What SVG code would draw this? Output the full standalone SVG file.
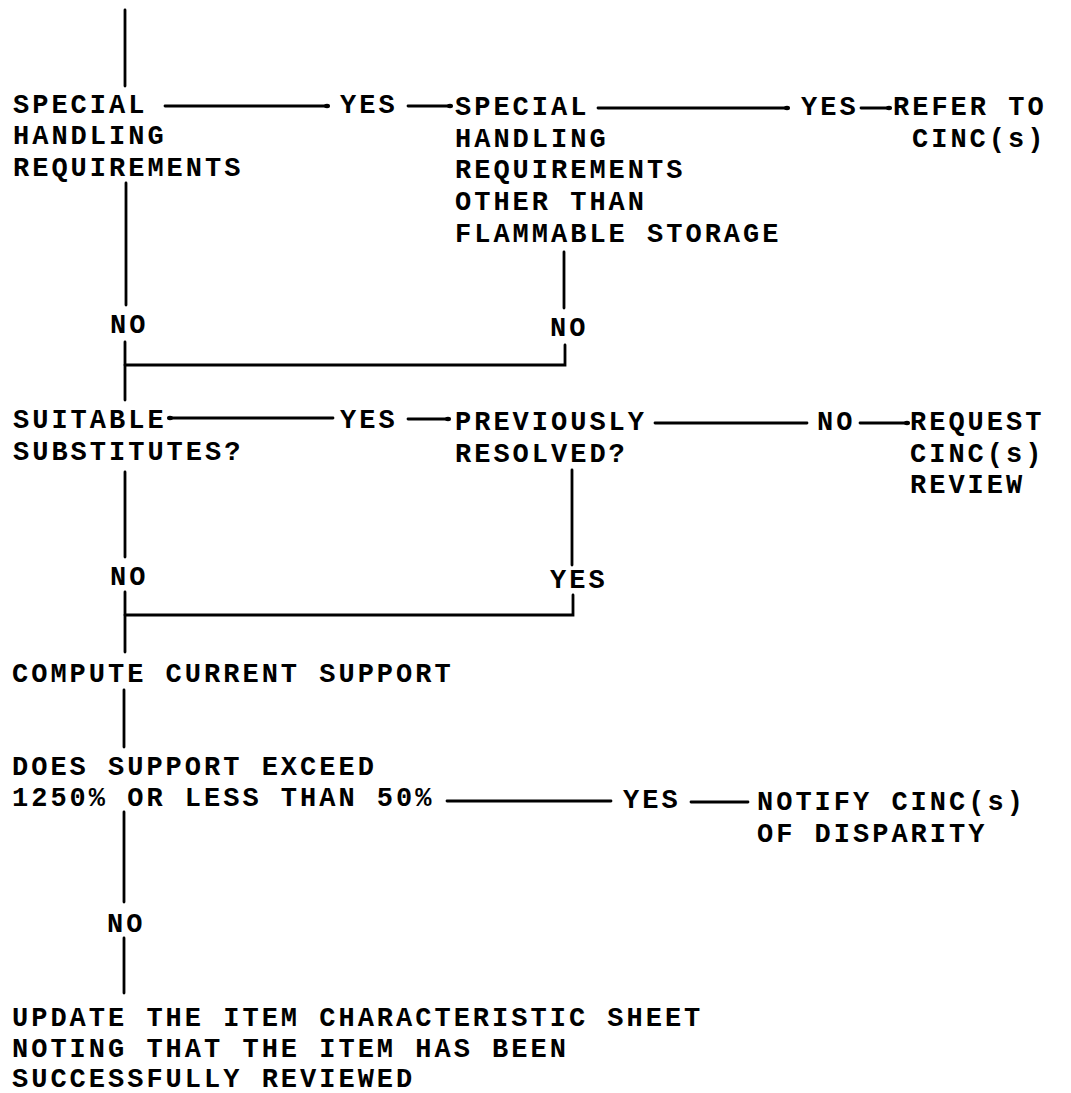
<svg xmlns="http://www.w3.org/2000/svg" width="1071" height="1093" viewBox="0 0 1071 1093">
<style>
text{font-family:"Liberation Mono","Courier New",monospace;font-size:27px;font-weight:bold;letter-spacing:3px;fill:#000}
.c line,.c path{stroke:#000;stroke-width:2.8;fill:none;stroke-linecap:round}
</style>
<defs>
<marker id="dot" viewBox="0 0 6 6" refX="3" refY="3" markerWidth="6" markerHeight="6" markerUnits="userSpaceOnUse"><ellipse cx="3" cy="3" rx="3" ry="2.2" fill="#000"/></marker>
</defs>
<rect width="1071" height="1093" fill="#fff"/>
<g class="c" id="connectors">
<line x1="125" y1="10" x2="125" y2="86"/>
<line x1="165" y1="106" x2="327" y2="106" marker-end="url(#dot)"/>
<line x1="408" y1="106" x2="450" y2="106" marker-end="url(#dot)"/>
<line x1="598" y1="108" x2="787" y2="108" marker-end="url(#dot)"/>
<line x1="861" y1="108" x2="889" y2="108" marker-end="url(#dot)"/>
<line x1="126" y1="183" x2="126" y2="305"/>
<line x1="564" y1="252" x2="564" y2="308"/>
<path d="M565,345 V365 H125"/>
<line x1="125" y1="342" x2="125" y2="400"/>
<line x1="333" y1="418" x2="170" y2="418" marker-end="url(#dot)"/>
<line x1="408" y1="419" x2="448" y2="419" marker-end="url(#dot)"/>
<line x1="655" y1="423" x2="807" y2="423"/>
<line x1="860" y1="423" x2="907" y2="423" marker-end="url(#dot)"/>
<line x1="125" y1="472" x2="125" y2="557"/>
<line x1="572" y1="470" x2="572" y2="565"/>
<path d="M573,595 V615 H125"/>
<line x1="125" y1="592" x2="125" y2="652"/>
<line x1="124" y1="690" x2="124" y2="747"/>
<line x1="447" y1="801" x2="611" y2="801"/>
<line x1="691" y1="802" x2="748" y2="802"/>
<line x1="124" y1="812" x2="124" y2="902"/>
<line x1="124" y1="938" x2="124" y2="993"/>
</g>
<g id="n-special"><text x="13" y="113">SPECIAL</text><text x="13" y="144">HANDLING</text><text x="13" y="176">REQUIREMENTS</text></g>
<g id="l-yes1"><text x="340" y="113">YES</text></g>
<g id="n-special2"><text x="455" y="115">SPECIAL</text><text x="455" y="147">HANDLING</text><text x="455" y="178">REQUIREMENTS</text><text x="455" y="210">OTHER THAN</text><text x="455" y="242">FLAMMABLE STORAGE</text></g>
<g id="l-yes2"><text x="801" y="115">YES</text></g>
<g id="n-refer"><text x="893" y="115">REFER TO</text><text x="912" y="147">CINC(s)</text></g>
<g id="l-no1"><text x="110" y="333">NO</text></g>
<g id="l-no2"><text x="550" y="336">NO</text></g>
<g id="n-suitable"><text x="13" y="428">SUITABLE</text><text x="13" y="460">SUBSTITUTES?</text></g>
<g id="l-yes3"><text x="340" y="428">YES</text></g>
<g id="n-previously"><text x="455" y="430">PREVIOUSLY</text><text x="455" y="462">RESOLVED?</text></g>
<g id="l-no3"><text x="817" y="430">NO</text></g>
<g id="n-request"><text x="910" y="430">REQUEST</text><text x="910" y="462">CINC(s)</text><text x="910" y="493">REVIEW</text></g>
<g id="l-no4"><text x="110" y="585">NO</text></g>
<g id="l-yes4"><text x="550" y="588">YES</text></g>
<g id="n-compute"><text x="12" y="682">COMPUTE CURRENT SUPPORT</text></g>
<g id="n-does"><text x="12" y="775">DOES SUPPORT EXCEED</text><text x="12" y="806">1250% OR LESS THAN 50%</text></g>
<g id="l-yes5"><text x="623" y="808">YES</text></g>
<g id="n-notify"><text x="757" y="810">NOTIFY CINC(s)</text><text x="757" y="842">OF DISPARITY</text></g>
<g id="l-no5"><text x="107" y="932">NO</text></g>
<g id="n-update"><text x="12" y="1026">UPDATE THE ITEM CHARACTERISTIC SHEET</text><text x="12" y="1057">NOTING THAT THE ITEM HAS BEEN</text><text x="12" y="1087">SUCCESSFULLY REVIEWED</text></g>
</svg>
